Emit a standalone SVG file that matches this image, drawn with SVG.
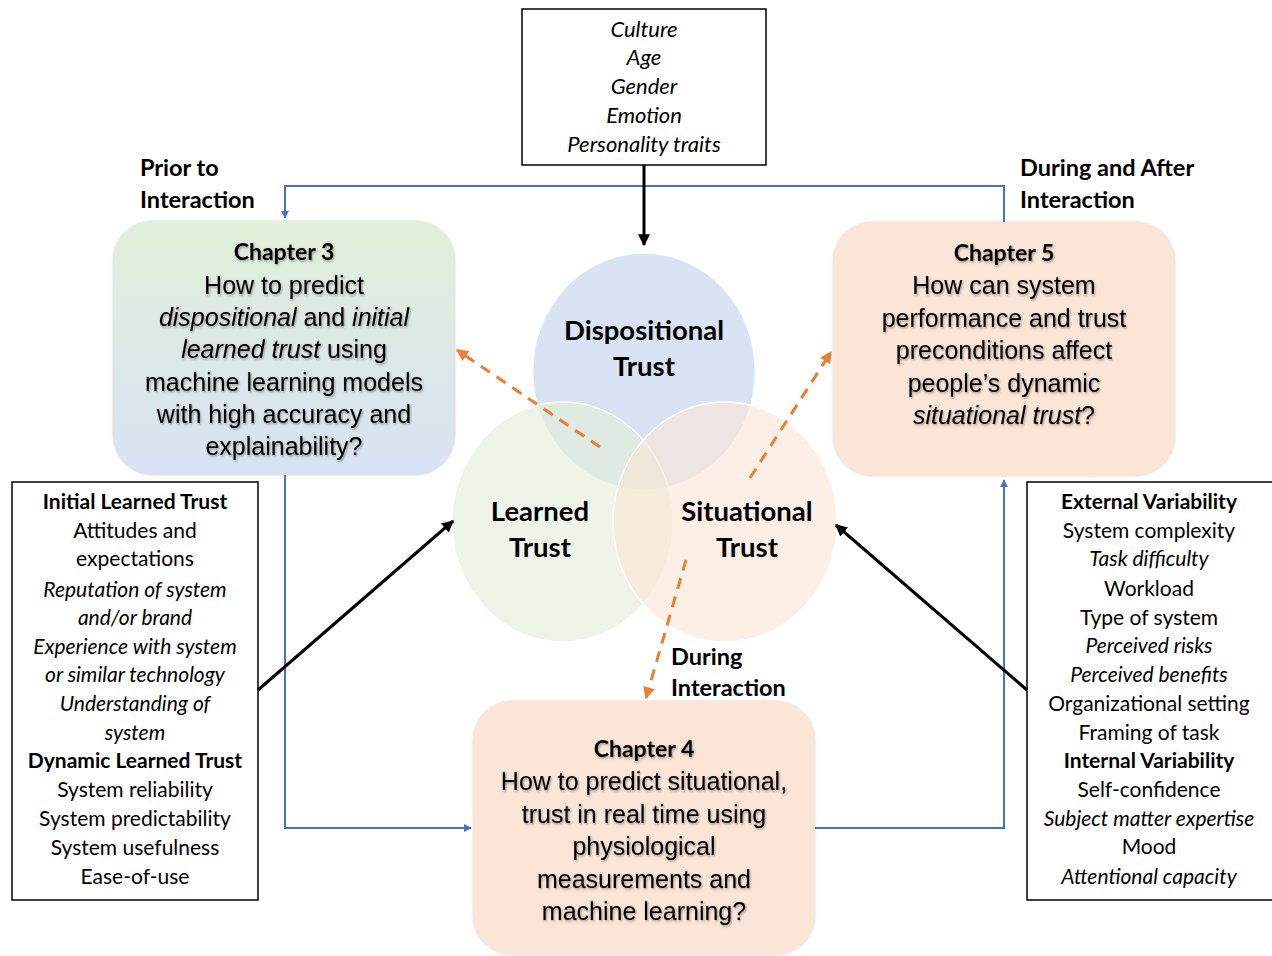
<svg xmlns="http://www.w3.org/2000/svg" width="1272" height="956" viewBox="0 0 1272 956">
  <style>
    .lbl { font-family: Lato, "Open Sans", sans-serif; fill: #000; text-anchor: middle; }
    .list { font-size: 21px; }
    .top { font-size: 22px; }
    .it { font-style: italic; }
    .b { font-weight: bold; }
    .phase { font-family: Lato, "Open Sans", sans-serif; font-weight: bold; font-size: 23.5px; fill: #000; }
    .circ { font-family: Lato, "Open Sans", sans-serif; font-weight: bold; font-size: 27.5px; fill: #000; text-anchor: middle; }
    .q { font-family: "Liberation Sans", Arial, sans-serif; font-size: 25px; fill: #000; text-anchor: middle; filter: url(#tshadow); }
    .chap { font-family: Lato, "Open Sans", sans-serif; font-weight: bold; font-size: 23px; fill: #000; text-anchor: middle; filter: url(#tshadow); }
    .box { fill: #fff; stroke: #000; stroke-width: 1.5; }
    .blue { fill: none; stroke: #4472c4; stroke-width: 2; }
    .orange { fill: none; stroke: #ed7d31; stroke-width: 3; stroke-dasharray: 11 8; }
    .black { fill: none; stroke: #000; stroke-width: 3; }
  </style>
  <defs>
    <linearGradient id="ch3fill" x1="0" y1="0" x2="0" y2="1">
      <stop offset="0" stop-color="#e2efd9"/>
      <stop offset="1" stop-color="#d9e2f3"/>
    </linearGradient>
    <filter id="tshadow" x="-10%" y="-20%" width="120%" height="150%">
      <feDropShadow dx="1" dy="1.5" stdDeviation="0.8" flood-color="#000" flood-opacity="0.35"/>
    </filter>
    <filter id="soft" x="-5%" y="-5%" width="110%" height="110%">
      <feDropShadow dx="0" dy="0" stdDeviation="1" flood-color="#999" flood-opacity="0.5"/>
    </filter>
    <marker id="mBlue" viewBox="0 0 10 10" refX="9" refY="5" markerWidth="4" markerHeight="4" orient="auto">
      <path d="M0,0 L10,5 L0,10 z" fill="#4472c4"/>
    </marker>
    <marker id="mBlack" viewBox="0 0 10 10" refX="9" refY="5" markerWidth="4" markerHeight="4" orient="auto">
      <path d="M0,0 L10,5 L0,10 z" fill="#000"/>
    </marker>
    <marker id="mOrange" viewBox="0 0 10 10" refX="9" refY="5" markerWidth="4" markerHeight="4" orient="auto">
      <path d="M0,0 L10,5 L0,10 z" fill="#ed7d31"/>
    </marker>
  </defs>

  <rect width="1272" height="956" fill="#fff"/>

  <!-- blue timeline loop -->
  <g id="connectors-timeline">
    <path class="blue" d="M1004,222 V186 H285 V218" marker-end="url(#mBlue)"/>
    <path class="blue" d="M285,475 V828 H471" marker-end="url(#mBlue)"/>
    <path class="blue" d="M815,828 H1004 V480" marker-end="url(#mBlue)"/>
  </g>

  <!-- trust ellipses -->
  <g id="trust-venn">
    <ellipse cx="644" cy="371.5" rx="111.5" ry="118.5" fill="#dae3f3" stroke="#fff" stroke-width="1.5"/>
    <ellipse cx="562.5" cy="522" rx="110.5" ry="120" fill="#e2efd9" fill-opacity="0.6" stroke="#fff" stroke-width="1.5"/>
    <ellipse cx="725" cy="522" rx="112" ry="120" fill="#fbe5d6" fill-opacity="0.6" stroke="#fff" stroke-width="1.5"/>
    <text class="circ" x="644" y="340">Dispositional</text>
    <text class="circ" x="644" y="376">Trust</text>
    <text class="circ" x="540" y="521">Learned</text>
    <text class="circ" x="540" y="557">Trust</text>
    <text class="circ" x="747" y="521">Situational</text>
    <text class="circ" x="747" y="557">Trust</text>
  </g>

  <!-- chapter 3 -->
  <g id="chapter3">
    <rect x="113" y="221" width="342" height="254" rx="40" fill="url(#ch3fill)" filter="url(#soft)"/>
    <text class="chap" x="284" y="260">Chapter 3</text>
    <text class="q" x="284" y="294">How to predict</text>
    <text class="q" x="284" y="326"><tspan font-style="italic">dispositional</tspan> and <tspan font-style="italic">initial</tspan></text>
    <text class="q" x="284" y="358"><tspan font-style="italic">learned trust</tspan> using</text>
    <text class="q" x="284" y="391">machine learning models</text>
    <text class="q" x="284" y="423">with high accuracy and</text>
    <text class="q" x="284" y="455">explainability?</text>
  </g>

  <!-- chapter 5 -->
  <g id="chapter5">
    <rect x="833" y="222" width="342" height="254" rx="40" fill="#fbe5d6" filter="url(#soft)"/>
    <text class="chap" x="1004" y="261">Chapter 5</text>
    <text class="q" x="1004" y="294">How can system</text>
    <text class="q" x="1004" y="327">performance and trust</text>
    <text class="q" x="1004" y="359">preconditions affect</text>
    <text class="q" x="1004" y="392">people’s dynamic</text>
    <text class="q" x="1004" y="424"><tspan font-style="italic">situational trust</tspan>?</text>
  </g>

  <!-- chapter 4 -->
  <g id="chapter4">
    <rect x="473" y="701" width="342" height="254" rx="40" fill="#fbe5d6" filter="url(#soft)"/>
    <text class="chap" x="644" y="757">Chapter 4</text>
    <text class="q" x="644" y="790">How to predict situational,</text>
    <text class="q" x="644" y="823">trust in real time using</text>
    <text class="q" x="644" y="855">physiological</text>
    <text class="q" x="644" y="888">measurements and</text>
    <text class="q" x="644" y="920">machine learning?</text>
  </g>

  <!-- dispositional factors -->
  <g id="dispositional-factors">
    <rect class="box" x="522" y="9" width="244" height="156"/>
    <text class="lbl top it" x="644" y="37">Culture</text>
    <text class="lbl top it" x="644" y="65">Age</text>
    <text class="lbl top it" x="644" y="94">Gender</text>
    <text class="lbl top it" x="644" y="123">Emotion</text>
    <text class="lbl top it" x="644" y="152">Personality traits</text>
  </g>

  <!-- learned trust factors -->
  <g id="learned-factors">
    <rect class="box" x="12" y="482" width="246" height="418"/>
    <text class="lbl list b" x="135" y="509">Initial Learned Trust</text>
    <text class="lbl list" x="135" y="538">Attitudes and</text>
    <text class="lbl list" x="135" y="566">expectations</text>
    <text class="lbl list it" x="135" y="597">Reputation of system</text>
    <text class="lbl list it" x="135" y="625">and/or brand</text>
    <text class="lbl list it" x="135" y="654">Experience with system</text>
    <text class="lbl list it" x="135" y="682">or similar technology</text>
    <text class="lbl list it" x="135" y="711">Understanding of</text>
    <text class="lbl list it" x="135" y="740">system</text>
    <text class="lbl list b" x="135" y="768">Dynamic Learned Trust</text>
    <text class="lbl list" x="135" y="797">System reliability</text>
    <text class="lbl list" x="135" y="826">System predictability</text>
    <text class="lbl list" x="135" y="855">System usefulness</text>
    <text class="lbl list" x="135" y="884">Ease-of-use</text>
  </g>

  <!-- situational trust factors -->
  <g id="situational-factors">
    <rect class="box" x="1027" y="482" width="250" height="418"/>
    <text class="lbl list b" x="1149" y="509">External Variability</text>
    <text class="lbl list" x="1149" y="538">System complexity</text>
    <text class="lbl list it" x="1149" y="566">Task difficulty</text>
    <text class="lbl list" x="1149" y="596">Workload</text>
    <text class="lbl list" x="1149" y="625">Type of system</text>
    <text class="lbl list it" x="1149" y="653">Perceived risks</text>
    <text class="lbl list it" x="1149" y="682">Perceived benefits</text>
    <text class="lbl list" x="1149" y="711">Organizational setting</text>
    <text class="lbl list" x="1149" y="740">Framing of task</text>
    <text class="lbl list b" x="1149" y="768">Internal Variability</text>
    <text class="lbl list" x="1149" y="797">Self-confidence</text>
    <text class="lbl list it" x="1149" y="826">Subject matter expertise</text>
    <text class="lbl list" x="1149" y="854">Mood</text>
    <text class="lbl list it" x="1149" y="884">Attentional capacity</text>
  </g>

  <!-- phase labels -->
  <g id="phase-labels">
    <text class="phase" x="140" y="176">Prior to</text>
    <text class="phase" x="140" y="208">Interaction</text>
    <text class="phase" x="1020" y="176">During and After</text>
    <text class="phase" x="1020" y="208">Interaction</text>
    <text class="phase" x="671" y="665">During</text>
    <text class="phase" x="671" y="696">Interaction</text>
  </g>

  <!-- influence arrows -->
  <g id="connectors">
    <path class="black" d="M644,165 V245" marker-end="url(#mBlack)"/>
    <path class="black" d="M258,690 L453,521" marker-end="url(#mBlack)"/>
    <path class="black" d="M1027,690 L836,525" marker-end="url(#mBlack)"/>
    <path class="orange" d="M600,447 L457,350" marker-end="url(#mOrange)"/>
    <path class="orange" d="M750,478 L831,352" marker-end="url(#mOrange)"/>
    <path class="orange" d="M686,560 L646,698" marker-end="url(#mOrange)"/>
  </g>
</svg>
